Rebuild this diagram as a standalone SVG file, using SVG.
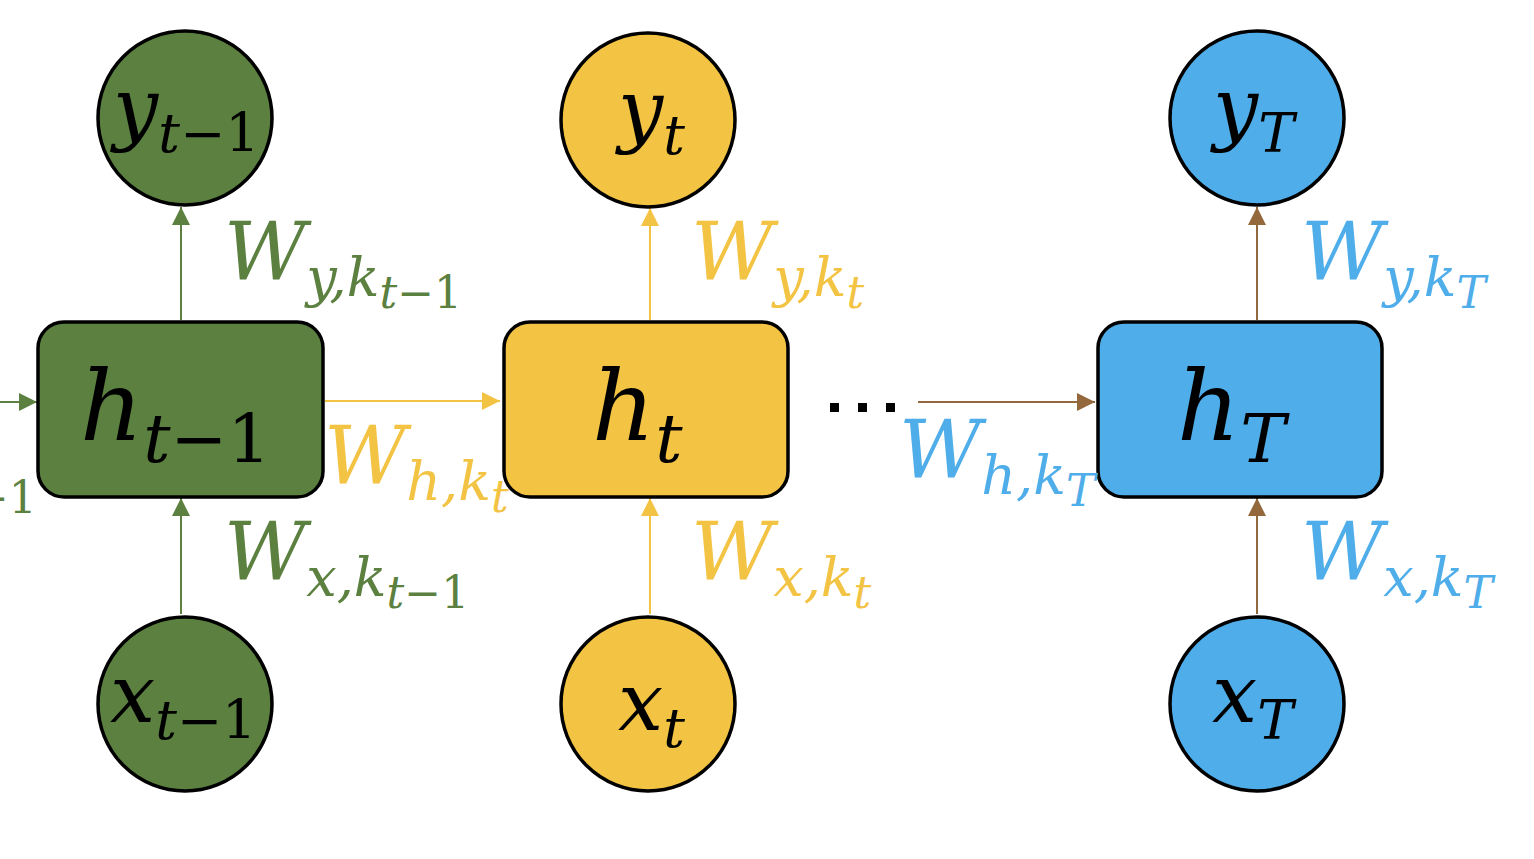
<svg xmlns="http://www.w3.org/2000/svg" width="1534" height="859" viewBox="0 0 1534 859">
<defs>
<style>
.m{font-family:"DejaVu Serif","Liberation Serif",serif;font-style:italic}
.n{font-style:normal}
.node{stroke:#000;stroke-width:3.5}
.g{fill:#5b8040}.yl{fill:#f3c343}.b{fill:#4faeea}
.gs{stroke:#5b8040}.ys{stroke:#f3c343}.bs{stroke:#93683c}
.big{font-size:80px}.sub{font-size:54px}.ss{font-size:44px}
.hh{font-size:98px}.hs{font-size:68px}
</style>
<marker id="ay" markerWidth="18" markerHeight="18" refX="18" refY="9" orient="auto" markerUnits="userSpaceOnUse" viewBox="0 0 18 18"><path d="M0,0 L18,9 L0,18 z" fill="#f3c343"/></marker>
<marker id="ag2" markerWidth="18" markerHeight="18" refX="18" refY="9" orient="auto" markerUnits="userSpaceOnUse" viewBox="0 0 18 18"><path d="M0,0 L18,9 L0,18 z" fill="#5b8040"/></marker>
<marker id="ab" markerWidth="18" markerHeight="18" refX="18" refY="9" orient="auto" markerUnits="userSpaceOnUse" viewBox="0 0 18 18"><path d="M0,0 L18,9 L0,18 z" fill="#93683c"/></marker>
</defs>
<rect width="1534" height="859" fill="#fff"/>
<g id="connectors" fill="none" stroke-width="2">
<line class="gs" x1="0" y1="402" x2="37" y2="402" marker-end="url(#ag2)"/>
<line class="gs" x1="181" y1="320" x2="181" y2="207" marker-end="url(#ag2)"/>
<line class="gs" x1="181" y1="614" x2="181" y2="498" marker-end="url(#ag2)"/>
<line class="ys" x1="325" y1="401" x2="500" y2="401" marker-end="url(#ay)"/>
<line class="ys" x1="650" y1="320" x2="650" y2="208" marker-end="url(#ay)"/>
<line class="ys" x1="650" y1="614" x2="650" y2="498" marker-end="url(#ay)"/>
<line class="bs" x1="918" y1="402" x2="1095" y2="402" marker-end="url(#ab)"/>
<line class="bs" x1="1257" y1="320" x2="1257" y2="207" marker-end="url(#ab)"/>
<line class="bs" x1="1257" y1="614" x2="1257" y2="498" marker-end="url(#ab)"/>
</g>
<g id="dots" fill="#000"><rect x="830" y="403" width="9" height="9"/><rect x="858" y="403" width="9" height="9"/><rect x="886" y="403" width="9" height="9"/></g>
<g id="y_tm1"><circle class="node g" cx="185" cy="118" r="87"/><text class="m big" x="113" y="135">y<tspan class="sub" dy="17">t<tspan class="n">−1</tspan></tspan></text></g>
<g id="y_t"><circle class="node yl" cx="648" cy="120" r="87"/><text class="m big" x="618" y="137">y<tspan class="sub" dy="17">t</tspan></text></g>
<g id="y_T"><circle class="node b" cx="1257" cy="118" r="87"/><text class="m big" x="1213" y="135">y<tspan class="sub" dy="17">T</tspan></text></g>
<g id="h_tm1"><rect class="node g" x="38" y="322" width="285" height="175" rx="26"/><text class="m hh" x="80" y="440">h<tspan class="hs" dy="22">t<tspan class="n">−1</tspan></tspan></text></g>
<g id="h_t"><rect class="node yl" x="504" y="322" width="284" height="175" rx="26"/><text class="m hh" x="592" y="440">h<tspan class="hs" dy="22">t</tspan></text></g>
<g id="h_T"><rect class="node b" x="1098" y="322" width="284" height="175" rx="26"/><text class="m hh" x="1177" y="440">h<tspan class="hs" dy="22">T</tspan></text></g>
<g id="x_tm1"><circle class="node g" cx="185" cy="704" r="87"/><text class="m big" x="110" y="722">x<tspan class="sub" dy="17">t<tspan class="n">−1</tspan></tspan></text></g>
<g id="x_t"><circle class="node yl" cx="648" cy="704" r="87"/><text class="m big" x="618" y="730">x<tspan class="sub" dy="17">t</tspan></text></g>
<g id="x_T"><circle class="node b" cx="1257" cy="704" r="87"/><text class="m big" x="1212" y="722">x<tspan class="sub" dy="17">T</tspan></text></g>
<g id="labels" class="m">
<text class="ss n" x="-28" y="513" fill="#5b8040">−1</text>
<text class="big" x="224" y="280" fill="#5b8040">W<tspan class="sub" dy="16">y,k<tspan class="ss" dy="12">t<tspan class="n">−1</tspan></tspan></tspan></text>
<text class="big" x="691" y="280" fill="#f3c343">W<tspan class="sub" dy="16">y,k<tspan class="ss" dy="12">t</tspan></tspan></text>
<text class="big" x="1301" y="280" fill="#4faeea">W<tspan class="sub" dy="16">y,k<tspan class="ss" dy="12">T</tspan></tspan></text>
<text class="big" x="324" y="484" fill="#f3c343">W<tspan class="sub" dy="16">h,k<tspan class="ss" dy="12">t</tspan></tspan></text>
<text class="big" x="899" y="478" fill="#4faeea">W<tspan class="sub" dy="16">h,k<tspan class="ss" dy="12">T</tspan></tspan></text>
<text class="big" x="224" y="580" fill="#5b8040">W<tspan class="sub" dy="16">x,k<tspan class="ss" dy="12">t<tspan class="n">−1</tspan></tspan></tspan></text>
<text class="big" x="691" y="580" fill="#f3c343">W<tspan class="sub" dy="16">x,k<tspan class="ss" dy="12">t</tspan></tspan></text>
<text class="big" x="1301" y="580" fill="#4faeea">W<tspan class="sub" dy="16">x,k<tspan class="ss" dy="12">T</tspan></tspan></text>
</g>
</svg>
